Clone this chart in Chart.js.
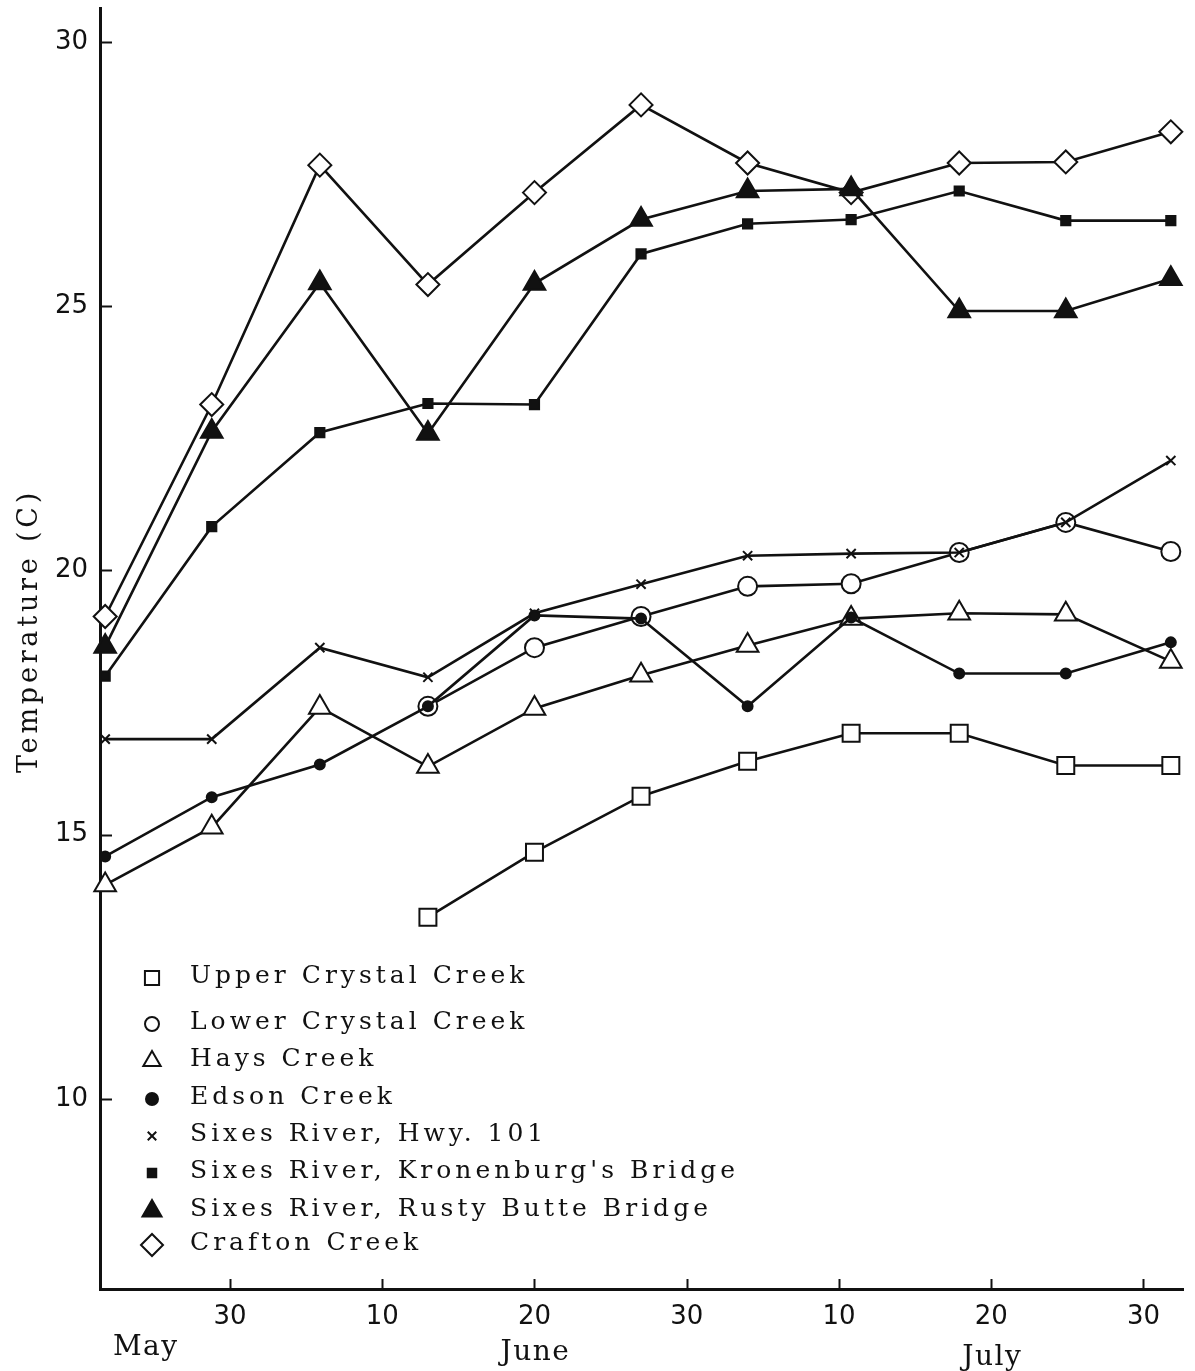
<!DOCTYPE html>
<html>
<head>
<meta charset="utf-8">
<title>Water temperature, Sixes River basin</title>
<script src="https://cdn.jsdelivr.net/npm/chart.js@4.4.1/dist/chart.umd.min.js"></script>
<style>
  html, body { margin: 0; padding: 0; background: #fff; }
  #wrap { width: 1195px; height: 1371px; position: relative; }
</style>
</head>
<body>
<div id="wrap"><canvas id="chart"></canvas></div>
<script>
// Date axis: 0 = May 30, each labelled tick is 10 units further on.
const sampleDays = [-8.2, -1.2, 5.9, 13, 20, 27, 34, 40.8, 47.9, 54.9, 61.8];
const dateTicks = [0, 10, 20, 30, 40, 50, 60];
const dateTickLabels = ['30', '10', '20', '30', '10', '20', '30'];
const monthNames = ['May', 'June', 'July'];
const monthAt = [-5.6, 20, 50];
const tempTicks = [10, 15, 20, 25, 30];

// Weekly maximum water temperature (C) per station
const upperCrystal = [null, null, null, 13.44, 14.67, 15.73, 16.39, 16.92, 16.92, 16.31, 16.31];
const lowerCrystal = [null, null, null, 17.43, 18.54, 19.13, 19.70, 19.75, 20.34, 20.91, 20.36];
const hays         = [14.05, 15.14, 17.41, 16.29, 17.39, 18.02, 18.58, 19.09, 19.19, 19.17, 18.28];
const edson        = [14.59, 15.71, 16.33, 17.43, 19.15, 19.09, 17.43, 19.11, 18.05, 18.05, 18.64];
const sixesHwy101  = [16.81, 16.81, 18.54, 17.98, 19.19, 19.74, 20.28, 20.32, 20.34, 20.91, 22.08];
const sixesKronen  = [18.00, 20.83, 22.61, 23.16, 23.14, 25.99, 26.56, 26.64, 27.18, 26.62, 26.62];
const sixesRusty   = [18.56, 22.63, 25.44, 22.59, 25.43, 26.64, 27.18, 27.22, 24.91, 24.91, 25.52];
const crafton      = [19.13, 23.14, 27.67, 25.41, 27.15, 28.81, 27.71, 27.15, 27.71, 27.73, 28.30];

const seriesNames = [
  'Upper Crystal Creek',
  'Lower Crystal Creek',
  'Hays Creek',
  'Edson Creek',
  'Sixes River, Hwy. 101',
  "Sixes River, Kronenburg's Bridge",
  'Sixes River, Rusty Butte Bridge',
  'Crafton Creek'
];
const seriesValues = [upperCrystal, lowerCrystal, hays, edson, sixesHwy101, sixesKronen, sixesRusty, crafton];

// marker look for each station: [pointStyle, radius, filled, drawOrder]
const markerLook = [
  ['rect', 12, false, 1],
  ['circle', 9.5, false, 2],
  ['triangle', 12.5, false, 1],
  ['circle', 5, true, 0],
  ['crossRot', 6.5, false, 0],
  ['rect', 6.5, true, 1],
  ['triangle', 12.5, true, 1],
  ['rectRot', 11.5, false, 1]
];

const INK = '#111';

const datasets = seriesValues.map((vals, i) => {
  const [style, r, filled, order] = markerLook[i];
  return {
    label: seriesNames[i],
    data: sampleDays.map((d, k) => ({ x: d, y: vals[k] })),
    borderColor: INK,
    borderWidth: 2.6,
    pointStyle: style,
    pointRadius: r,
    pointHoverRadius: r,
    pointBorderColor: INK,
    pointBorderWidth: 2,
    pointBackgroundColor: filled ? INK : '#fff',
    tension: 0,
    fill: false,
    spanGaps: false,
    order: order,
    clip: false
  };
});

function drawMarker(ctx, style, radius, x, y, filled) {
  ctx.save();
  ctx.fillStyle = filled ? INK : '#fff';
  ctx.strokeStyle = INK;
  ctx.lineWidth = 2;
  if (Chart.helpers && Chart.helpers.drawPoint) {
    Chart.helpers.drawPoint(ctx, { pointStyle: style, radius: radius, rotation: 0, borderWidth: 2 }, x, y);
  } else {
    ctx.beginPath();
    ctx.arc(x, y, radius, 0, Math.PI * 2);
    ctx.fill();
    ctx.stroke();
  }
  ctx.restore();
}

const legendRows = [976, 1022, 1059, 1097, 1134, 1171, 1209, 1243];
const legendMarkerSize = [10, 7, 10, 6, 6, 6, 11, 11];

const decorations = {
  id: 'decorations',
  beforeDraw(chart) {
    const { ctx, width, height } = chart;
    ctx.save();
    ctx.fillStyle = '#fff';
    ctx.fillRect(0, 0, width, height);
    ctx.restore();
  },
  afterDraw(chart) {
    const { ctx, chartArea } = chart;
    const xs = chart.scales.x, ys = chart.scales.y;
    ctx.save();
    ctx.strokeStyle = INK;
    ctx.lineWidth = 2;
    // short tick marks pointing into the plot
    tempTicks.forEach(v => {
      const py = Math.round(ys.getPixelForValue(v)) + 0.5;
      ctx.beginPath();
      ctx.moveTo(chartArea.left, py);
      ctx.lineTo(chartArea.left + 12, py);
      ctx.stroke();
    });
    dateTicks.forEach(v => {
      const px = Math.round(xs.getPixelForValue(v)) + 0.5;
      ctx.beginPath();
      ctx.moveTo(px, chartArea.bottom);
      ctx.lineTo(px, chartArea.bottom - 10);
      ctx.stroke();
    });

    ctx.fillStyle = INK;
    // month names under the day ticks
    ctx.font = '28px "DejaVu Serif"';
    ctx.letterSpacing = '1.5px';
    ctx.textAlign = 'center';
    ctx.textBaseline = 'alphabetic';
    monthNames.forEach((m, i) => {
      ctx.fillText(m, xs.getPixelForValue(monthAt[i]) + 1, chartArea.bottom + 66 + i * 5);
    });

    // vertical axis title
    ctx.save();
    ctx.font = '27px "DejaVu Serif"';
    ctx.letterSpacing = '3.8px';
    ctx.translate(30, 631);
    ctx.rotate(-Math.PI / 2);
    ctx.textAlign = 'center';
    ctx.textBaseline = 'middle';
    ctx.fillText('Temperature (C)', 0, 0);
    ctx.restore();

    // key to the station symbols
    ctx.font = '25px "DejaVu Serif"';
    ctx.letterSpacing = '4px';
    ctx.textAlign = 'left';
    ctx.textBaseline = 'middle';
    seriesNames.forEach((name, i) => {
      const [style, , filled] = markerLook[i];
      const ry = legendRows[i];
      drawMarker(ctx, style, legendMarkerSize[i], 152, ry + 2, filled);
      ctx.fillStyle = INK;
      ctx.fillText(name, 190, ry);
    });
    ctx.restore();
  }
};

new Chart(document.getElementById('chart'), {
  type: 'line',
  data: { datasets },
  plugins: [decorations],
  options: {
    responsive: true,
    maintainAspectRatio: false,
    animation: false,
    devicePixelRatio: 1,
    layout: { autoPadding: false, padding: { top: 8, right: 12, left: 0, bottom: 0 } },
    plugins: {
      legend: { display: false },
      tooltip: { enabled: false }
    },
    events: [],
    scales: {
      x: {
        type: 'linear',
        min: -8.54,
        max: 62.6,
        afterFit(s) { s.height = 82; s.paddingLeft = 0; s.paddingRight = 0; },
        afterBuildTicks(s) { s.ticks = dateTicks.map(v => ({ value: v })); },
        grid: { display: false, drawTicks: false },
        border: { display: true, color: INK, width: 3 },
        ticks: {
          autoSkip: false,
          maxRotation: 0,
          padding: 13,
          color: INK,
          font: { family: '"DejaVu Sans"', size: 26 },
          callback: (v) => {
            const k = dateTicks.indexOf(v);
            return k >= 0 ? dateTickLabels[k] : '';
          }
        }
      },
      y: {
        type: 'linear',
        min: 6.405,
        max: 30.643,
        afterFit(s) { s.width = 100; s.paddingTop = 0; s.paddingBottom = 0; },
        afterBuildTicks(s) { s.ticks = tempTicks.map(v => ({ value: v })); },
        grid: { display: false, drawTicks: false },
        border: { display: true, color: INK, width: 3 },
        ticks: {
          autoSkip: false,
          padding: 12,
          color: INK,
          font: { family: '"DejaVu Sans"', size: 26 },
          callback: (v) => String(v)
        }
      }
    }
  }
});
</script>
</body>
</html>
